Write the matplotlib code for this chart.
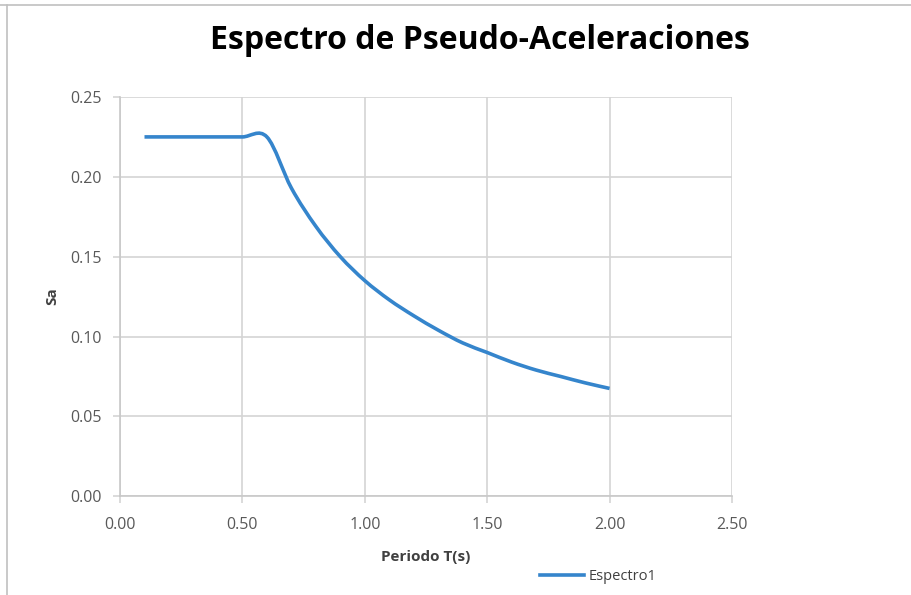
import matplotlib
matplotlib.use("Agg")
import matplotlib.pyplot as plt
from matplotlib.path import Path
from matplotlib.patches import PathPatch
from matplotlib.lines import Line2D

# ---- Data ----
periodo = [0.1, 0.2, 0.3, 0.4, 0.5, 0.6, 0.7, 0.8, 0.9, 1.0,
           1.1, 1.2, 1.3, 1.4, 1.5, 1.6, 1.7, 1.8, 1.9, 2.0]
sa = [0.225, 0.225, 0.225, 0.225, 0.225, 0.225, 0.193, 0.169, 0.150, 0.135,
      0.123, 0.113, 0.104, 0.096, 0.090, 0.084, 0.079, 0.075, 0.071, 0.0675]
x_ticks = [0.0, 0.5, 1.0, 1.5, 2.0, 2.5]
y_ticks = [0.0, 0.05, 0.10, 0.15, 0.20, 0.25]

LINE_COLOR = '#3585cc'
TICK_COLOR = '#595959'
GRID_COLOR = '#d4d4d4'
FONT = ['Liberation Sans Narrow', 'Open Sans', 'DejaVu Sans']


def smooth_path(xs, ys):
    """Excel-style smoothed line: Catmull-Rom segments as cubic Beziers."""
    pts = list(zip(xs, ys))
    verts = [pts[0]]
    codes = [Path.MOVETO]
    n = len(pts)
    for i in range(n - 1):
        p0 = pts[i - 1] if i > 0 else pts[i]
        p1, p2 = pts[i], pts[i + 1]
        p3 = pts[i + 2] if i + 2 < n else pts[i + 1]
        c1 = (p1[0] + (p2[0] - p0[0]) / 6, p1[1] + (p2[1] - p0[1]) / 6)
        c2 = (p2[0] - (p3[0] - p1[0]) / 6, p2[1] - (p3[1] - p1[1]) / 6)
        verts += [c1, c2, p2]
        codes += [Path.CURVE4] * 3
    return Path(verts, codes)


fig = plt.figure(figsize=(9.12, 5.95), dpi=100)
ax = fig.add_axes([0.1316, 0.166, 0.671, 0.671])

ax.add_patch(PathPatch(smooth_path(periodo, sa), facecolor='none',
                       edgecolor=LINE_COLOR, lw=2.6, capstyle='butt', zorder=3))

ax.set_xlim(0, 2.5)
ax.set_ylim(0, 0.25)
ax.set_xticks(x_ticks)
ax.set_yticks(y_ticks)
ax.set_xticklabels([f'{v:.2f}' for v in x_ticks])
ax.set_yticklabels([f'{v:.2f}' for v in y_ticks])
ax.tick_params(colors=GRID_COLOR, labelcolor=TICK_COLOR, labelsize=11.5,
               length=5, width=1.2, direction='out')
ax.tick_params(axis='x', pad=10)
ax.tick_params(axis='y', pad=8)
for lab in ax.get_xticklabels() + ax.get_yticklabels():
    lab.set_family(FONT)
ax.grid(True, color=GRID_COLOR, lw=1.2)
ax.set_axisbelow(True)
for side in ['top', 'right']:
    ax.spines[side].set_visible(False)
for side in ['left', 'bottom']:
    ax.spines[side].set_color('#c8c8c8')
    ax.spines[side].set_linewidth(1.2)

ax.set_xlabel('Periodo T(s)', fontsize=11, fontweight='bold', color='#404040',
              family=FONT, labelpad=12)
ax.set_ylabel('Sa', fontsize=11, fontweight='bold', color='#404040',
              family=FONT, labelpad=8)

fig.text(0.526, 0.932, 'Espectro de Pseudo-Aceleraciones', ha='center', va='center',
         fontsize=23, fontweight='bold', color='black', family=FONT)

# legend entry below the axes
handle = Line2D([], [], color=LINE_COLOR, lw=2.6)
fig.legend([handle], ['Espectro1'], loc='center left', bbox_to_anchor=(0.578, 0.031),
           frameon=False, handlelength=3.0, handletextpad=0.3,
           prop={'family': FONT, 'size': 10.5}, labelcolor='#404040')

# chart frame lines (top and left)
fig.add_artist(Line2D([0, 1], [0.991, 0.991], transform=fig.transFigure,
                      color='#c0c0c0', lw=1.2))
fig.add_artist(Line2D([0.008, 0.008], [0, 0.991], transform=fig.transFigure,
                      color='#c0c0c0', lw=1.2))

fig.savefig('out.png', dpi=100)
